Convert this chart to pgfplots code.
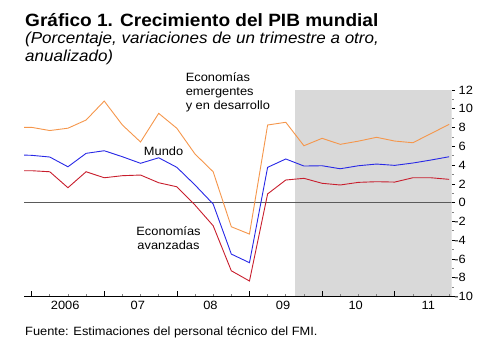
\documentclass[border=0pt]{standalone}
\usepackage{fontspec}
\setmainfont{Liberation Sans}[FakeStretch=1.07]
\usepackage{pgfplots}
\pgfplotsset{compat=1.18}
\definecolor{cOr}{RGB}{245,150,75}
\definecolor{cBl}{RGB}{40,40,230}
\definecolor{cRd}{RGB}{200,30,45}
\definecolor{cSh}{RGB}{217,217,217}
\definecolor{cZero}{RGB}{90,90,90}
\begin{document}
\begin{tikzpicture}[x=1pt,y=1pt]
\begin{axis}[
  at={(24pt,56.5pt)}, anchor=south west,
  width=427.7pt, height=206.5pt, scale only axis,
  xmin=-0.42, xmax=23.14, ymin=-10, ymax=12,
  clip mode=individual,
  axis x line=none,
  axis y line*=right,
  y axis line style={draw=none},
  tick align=outside,
  ytick={-10,-8,-6,-4,-2,0,2,4,6,8,10,12},
  yticklabels={\llap{-}10,\llap{-}8,\llap{-}6,\llap{-}4,\llap{-}2,0,2,4,6,8,10,12},
  minor ytick={-9,-7,-5,-3,-1,1,3,5,7,9,11},
  major tick length=3.5pt, minor tick length=2pt,
  major tick style={black, line width=0.6pt},
  minor tick style={gray, line width=0.6pt},
  yticklabel style={anchor=west, font=\fontsize{12}{14}\selectfont},
]
\addplot[fill=cSh, draw=none] coordinates {(14.5,-10) (23.14,-10) (23.14,12) (14.5,12)};
\addplot[color=cZero, line width=1pt] coordinates {(-0.42,0) (23.14,0)};
\addplot[color=cOr, line width=0.9pt] coordinates {
(-1,8.0) (0,8.02) (1,7.68) (2,7.93) (3,8.80) (4,10.82) (5,8.27) (6,6.46) (7,9.51)
(8,7.92) (9,5.18) (10,3.29) (11,-2.57) (12,-3.35) (13,8.27) (14,8.56) (15,6.06)
(16,6.85) (17,6.21) (18,6.55) (19,6.96) (20,6.56) (21,6.38) (22,7.36) (23,8.34)};
\addplot[color=cBl, line width=0.9pt] coordinates {
(-1,5.1) (0,5.04) (1,4.86) (2,3.82) (3,5.25) (4,5.53) (5,4.89) (6,4.19) (7,4.78)
(8,3.76) (9,1.88) (10,-0.15) (11,-5.48) (12,-6.40) (13,3.76) (14,4.65) (15,3.90)
(16,3.93) (17,3.61) (18,3.93) (19,4.11) (20,3.97) (21,4.22) (22,4.54) (23,4.89)};
\addplot[color=cRd, line width=0.9pt] coordinates {
(-1,3.4) (0,3.40) (1,3.29) (2,1.59) (3,3.29) (4,2.65) (5,2.87) (6,2.94) (7,2.12)
(8,1.69) (9,-0.26) (10,-2.46) (11,-7.26) (12,-8.35) (13,0.93) (14,2.41) (15,2.59)
(16,2.06) (17,1.88) (18,2.16) (19,2.23) (20,2.19) (21,2.65) (22,2.65) (23,2.48)};
\node[anchor=north west, align=left, inner sep=0, font=\fontsize{12}{14}\selectfont] at (axis cs:8.48,13.85) {Economías\\emergentes\\y en desarrollo};
\node[inner sep=0, font=\fontsize{12}{14}\selectfont] at (axis cs:7.27,5.5) {Mundo};
\node[anchor=north, align=center, inner sep=0, font=\fontsize{12}{14}\selectfont] at (axis cs:7.54,-2.55) {Economías\\avanzadas};
\end{axis}

\begin{axis}[
  at={(24pt,56.5pt)}, anchor=south west,
  width=427.7pt, height=206.5pt, scale only axis,
  xmin=-0.42, xmax=23.14, ymin=-10, ymax=12,
  axis y line=none,
  axis x line*=bottom,
  axis line style={-, black, line width=0.7pt},
  tick align=inside,
  xtick={1.85,5.85,9.85,13.85,17.85,21.85},
  xticklabels={2006,07,08,09,10,11},
  major tick length=0pt,
  minor xtick={0,1,...,23},
  minor tick length=2.5pt,
  minor tick style={gray, line width=0.6pt},
  extra x ticks={0,4,8,12,16,20},
  extra x tick labels={},
  extra x tick style={major tick length=5pt, major tick style={black, line width=0.6pt}},
  xticklabel style={yshift=-1.5pt, font=\fontsize{12}{14}\selectfont},
]
\addplot[draw=none] coordinates {(0,0) (1,0)};
\end{axis}

\node[anchor=base west, inner sep=0, font=\fontsize{17.8}{21}\selectfont\bfseries] at (25pt,326.3pt) {Gráfico 1. Crecimiento del PIB mundial};
\node[anchor=base west, inner sep=0, font=\fontsize{15.9}{18}\selectfont\itshape] at (25pt,309.7pt) {(Porcentaje, variaciones de un trimestre a otro,};
\node[anchor=base west, inner sep=0, font=\fontsize{15.9}{18}\selectfont\itshape] at (25pt,291.3pt) {anualizado)};
\node[anchor=base west, inner sep=0, font=\fontsize{12}{14}\selectfont] at (25pt,17pt) {Fuente: Estimaciones del personal técnico del FMI.};

\pgfresetboundingbox
\path[use as bounding box] (0pt,0pt) rectangle (499pt,353pt);
\end{tikzpicture}
\end{document}
